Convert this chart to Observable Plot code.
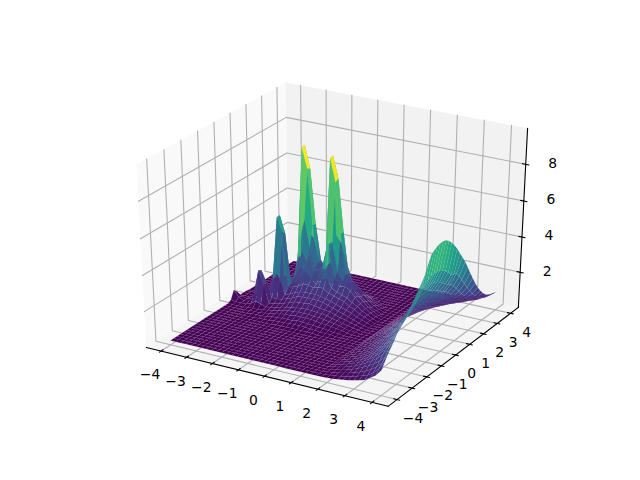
<!DOCTYPE html>
<html><head><meta charset="utf-8">
<script src="https://cdn.jsdelivr.net/npm/d3@7"></script>
<script src="https://cdn.jsdelivr.net/npm/@observablehq/plot@0.6"></script>
<style>html,body{margin:0;padding:0;background:#fff}svg{display:block}</style>
</head><body><div id="chart"></div>
<script>
const xLim=[-4.585,4.585], yLim=[-4.585,4.585], zLim=[-0.03,9.92];
const xTicks=[-4,-3,-2,-1,0,1,2,3,4], yTicks=[-4,-3,-2,-1,0,1,2,3,4], zTicks=[2,4,6,8];
const floorZ=0.95, zShift=0.73;
const gridStep=0.2, gridMin=-4, gridCount=41;
// z: rows for y = -1.2 … 2.8, columns x = -4 … 1.6
const ridgeRowStart=14;
const ridgeRows=[
[.95,.95,.95,.95,.95,.95,.95,.95,.95,.95,.95,.95,1,1,1,1,1,1,1,1,.95,.95,.95,.95,.95,.95,.95,.95,.95],
[.95,.95,.95,.95,.95,.95,.95,.95,1,1,1,1.05,1.05,1.05,1.1,1.1,1.1,1.1,1.05,1.05,1,1,1,.95,.95,.95,.95,.95,.95],
[.95,.95,.95,.95,.95,.95,1,1,1,1.05,1.1,1.1,1.15,1.15,1.15,1.2,1.2,1.15,1.15,1.1,1.1,1.05,1,1,.95,.95,.95,.95,.95],
[.95,.95,.95,.95,.95,1,1,1,1.05,1.1,1.15,1.2,1.25,1.25,1.3,1.3,1.3,1.3,1.25,1.2,1.2,1.15,1.1,1.05,1,.95,.95,.95,.95],
[.95,.95,.95,.95,1,1,1,1.05,1.1,1.15,1.2,1.3,1.35,1.35,1.4,1.4,1.4,1.35,1.35,1.3,1.25,1.2,1.15,1.05,1,1,.95,.95,.95],
[1.05,1,1,1,1.1,1.3,1.2,1.1,1.15,1.2,1.3,1.35,1.4,1.45,1.5,1.5,1.5,1.45,1.45,1.4,1.3,1.25,1.15,1.1,1.05,1,.95,.95,.95],
[1.5,1.15,1,1.05,1.5,2.95,2.2,1.2,1.25,1.3,1.4,1.5,1.6,1.65,1.65,1.7,1.65,1.6,1.55,1.5,1.4,1.3,1.25,1.15,1.1,1,.95,.95,.95],
[1.3,1.1,1,1.1,1.5,2.85,2.2,1.4,1.4,1.45,1.55,1.65,1.8,1.85,1.85,1.85,1.85,1.8,1.7,1.6,1.5,1.4,1.3,1.2,1.1,1,.95,.95,.95],
[1,1,1,1.1,1.2,1.5,1.7,2.8,2.5,1.6,1.7,1.85,1.95,2,2,2,1.95,1.9,1.8,1.7,1.6,1.5,1.4,1.25,1.15,1.05,.95,.95,.95],
[1,1,1,1.1,1.2,1.3,2.2,5.75,5,1.9,2,2.1,2.3,2.3,2.2,2.3,2.3,2.1,2,1.9,1.8,1.6,1.5,1.3,1.2,1.05,.95,.95,.95],
[1,1,1,1,1.1,1.2,2.2,5.75,4.8,2,2.2,2.6,3,2.5,2.3,2.6,2.8,2.3,2.1,2,1.9,1.7,1.55,1.35,1.2,1.05,.95,.95,.95],
[.95,.95,1,1,1,1.1,1.4,2.2,2.3,2.2,2.8,3,3.8,2.8,2.6,3.2,4,2.7,2.3,2.4,2.2,1.9,1.6,1.4,1.2,1.05,.95,.95,.95],
[.95,.95,.95,1,1,1.05,1.2,1.5,1.9,2.8,3.8,3.2,3,2.8,3,4.4,4.6,3,2.5,2.5,2.2,1.85,1.6,1.35,1.15,1,.95,.95,.95],
[.95,.95,.95,.95,1,1,1.1,1.4,2,4.2,5.4,3.9,2.8,2.6,2.8,9.03,7.8,5,2.8,2.4,2,1.7,1.5,1.2,1.1,.95,.95,.95,.95],
[.95,.95,.95,.95,.95,1,1.1,1.5,3,9.18,8.1,5,3,2.9,3,9.08,7.9,5,2.7,2.3,2,1.7,1.4,1.2,1.05,.95,.95,.95,.95],
[.95,.95,.95,.95,.95,.95,1.05,1.4,3,9.23,8,5,3,2.6,3,4.6,4.2,3.2,2.3,2,1.7,1.5,1.25,1.1,1,.95,.95,.95,.95],
[.95,.95,.95,.95,.95,.95,1,1.3,2,4.4,4,3,2.6,2.3,2.4,2.5,2.4,2.2,1.9,1.7,1.5,1.3,1.1,1,.95,.95,.95,.95,.95],
[.95,.95,.95,.95,.95,.95,1,1.15,1.5,2,2,2,1.9,1.9,1.9,1.8,1.8,1.7,1.5,1.4,1.25,1.1,1,.95,.95,.95,.95,.95,.95],
[.95,.95,.95,.95,.95,.95,.95,1.05,1.2,1.4,1.5,1.5,1.5,1.5,1.45,1.4,1.4,1.3,1.2,1.15,1.05,1,.95,.95,.95,.95,.95,.95,.95],
[.95,.95,.95,.95,.95,.95,.95,1,1.1,1.2,1.2,1.25,1.25,1.2,1.2,1.15,1.1,1.05,1,1,.95,.95,.95,.95,.95,.95,.95,.95,.95],
[.95,.95,.95,.95,.95,.95,.95,.95,1,1.05,1.05,1.05,1.05,1.05,1,1,.95,.95,.95,.95,.95,.95,.95,.95,.95,.95,.95,.95,.95]
];
// z: rows for y = -4 … 4, columns x = 1.8 … 4
const humpRows=[
[.95,.97,.99,1.04,1.08,1.13,1.2,1.27,1.36,1.55,1.75,2.1],
[.96,1,1.03,1.08,1.14,1.21,1.3,1.39,1.51,1.7,2,2.4],
[.98,1.02,1.07,1.13,1.21,1.3,1.41,1.54,1.69,1.9,2.2,2.7],
[1,1.06,1.11,1.19,1.29,1.41,1.54,1.7,1.89,2.11,2.42,2.95],
[1.02,1.08,1.15,1.25,1.36,1.5,1.66,1.84,2.07,2.33,2.69,3.2],
[1.03,1.11,1.19,1.29,1.42,1.58,1.76,1.97,2.23,2.51,2.93,3.5],
[1.04,1.13,1.21,1.33,1.47,1.64,1.84,2.07,2.35,2.67,3.12,3.75],
[1.05,1.14,1.24,1.36,1.51,1.69,1.91,2.15,2.46,2.79,3.28,3.95],
[1.06,1.16,1.26,1.39,1.55,1.75,1.97,2.23,2.56,2.92,3.44,4.15],
[1.07,1.18,1.28,1.42,1.59,1.8,2.04,2.31,2.66,3.04,3.59,4.35],
[1.09,1.2,1.31,1.46,1.64,1.86,2.12,2.42,2.79,3.19,3.79,4.6],
[1.1,1.22,1.33,1.49,1.69,1.93,2.2,2.52,2.91,3.35,3.98,4.85],
[1.11,1.24,1.36,1.53,1.74,1.99,2.29,2.62,3.04,3.5,4.18,5.1],
[1.12,1.26,1.39,1.57,1.79,2.06,2.37,2.72,3.07,3.56,4.17,5.35],
[1.14,1.28,1.42,1.61,1.85,2.14,2.47,2.85,3.22,3.75,4.4,5.65],
[1.16,1.32,1.47,1.68,1.94,2.25,2.62,3.03,3.45,4.02,4.76,6.1],
[1.18,1.35,1.52,1.74,2.02,2.36,2.75,3.2,3.66,4.17,4.87,6.5],
[1.19,1.36,1.53,1.76,2.05,2.4,2.8,3.26,3.73,4.27,4.99,6.65],
[1.19,1.37,1.54,1.78,2.07,2.42,2.83,3.3,3.78,4.33,5.06,6.75],
[1.2,1.37,1.55,1.79,2.08,2.43,2.85,3.32,3.81,4.36,5.1,6.8],
[1.2,1.37,1.55,1.79,2.08,2.43,2.85,3.32,3.81,4.36,5.1,6.8],
[1.19,1.37,1.54,1.78,2.07,2.42,2.83,3.3,3.78,4.33,5.06,6.75],
[1.19,1.36,1.53,1.76,2.04,2.38,2.78,3.24,3.71,4.23,4.95,6.6],
[1.18,1.34,1.51,1.73,2,2.33,2.72,3.16,3.61,4.11,4.79,6.4],
[1.16,1.32,1.48,1.69,1.95,2.27,2.63,3.05,3.48,3.96,4.6,6.15],
[1.15,1.3,1.44,1.64,1.89,2.19,2.53,2.93,3.32,3.77,4.36,5.85],
[1.13,1.27,1.41,1.59,1.82,2.1,2.42,2.79,3.15,3.65,4.29,5.5],
[1.11,1.24,1.37,1.54,1.75,2.01,2.3,2.64,3.07,3.54,4.22,5.15],
[1.1,1.21,1.33,1.49,1.68,1.91,2.19,2.5,2.89,3.32,3.94,4.8],
[1.08,1.18,1.29,1.43,1.6,1.81,2.06,2.34,2.69,3.07,3.63,4.4],
[1.05,1.14,1.24,1.36,1.51,1.69,1.91,2.15,2.46,2.79,3.28,3.95],
[1.03,1.11,1.19,1.3,1.43,1.59,1.77,1.99,2.25,2.54,2.97,3.55],
[1.01,1.08,1.15,1.24,1.35,1.49,1.64,1.82,2.05,2.3,2.66,3.15],
[1,1.05,1.11,1.19,1.28,1.39,1.53,1.68,1.87,2.08,2.38,2.8],
[.98,1.03,1.08,1.14,1.22,1.32,1.43,1.56,1.72,1.89,2.15,2.5],
[.97,1.01,1.05,1.1,1.17,1.25,1.35,1.45,1.59,1.74,1.95,2.25],
[.96,.99,1.03,1.07,1.13,1.2,1.28,1.37,1.49,1.61,1.8,2.05],
[.95,.98,1.01,1.05,1.1,1.16,1.23,1.31,1.41,1.52,1.68,1.9],
[.95,.97,.99,1.04,1.08,1.13,1.2,1.27,1.36,1.46,1.6,1.8],
[.95,.97,.99,1.03,1.07,1.12,1.18,1.25,1.34,1.43,1.56,1.75],
[.95,.97,.99,1.03,1.07,1.12,1.18,1.25,1.34,1.43,1.56,1.75]
];

const rad=Math.PI/180, el=30*rad, az=-60*rad, dist=10;
const w=[Math.cos(el)*Math.cos(az),Math.cos(el)*Math.sin(az),Math.sin(el)];
const u=[-Math.sin(az),Math.cos(az),0];
const v=[-Math.sin(el)*Math.cos(az),-Math.sin(el)*Math.sin(az),Math.cos(el)];
const dot=(a,b)=>a[0]*b[0]+a[1]*b[1]+a[2]*b[2];
function proj(x,y,z){
  const d=[(x-xLim[0])/(xLim[1]-xLim[0])-.5,(y-yLim[0])/(yLim[1]-yLim[0])-.5,(z-zLim[0])/(zLim[1]-zLim[0])-.5];
  const den=dist-dot(w,d);
  return {px:334.7+2791*dot(u,d)/den, py:238.4-2088*dot(v,d)/den, depth:den};
}
const [x0,x1]=xLim,[y0,y1]=yLim,[z0,z1]=zLim;
const path=(id,pts)=>pts.map(p=>({id,...proj(...p)}));
const panes=[
 {c:"#f9f9f9",p:[[x0,y0,z0],[x0,y1,z0],[x0,y1,z1],[x0,y0,z1]]},
 {c:"#f2f2f2",p:[[x0,y1,z0],[x1,y1,z0],[x1,y1,z1],[x0,y1,z1]]},
 {c:"#f5f5f5",p:[[x0,y0,z0],[x1,y0,z0],[x1,y1,z0],[x0,y1,z0]]}
];
const grid=[
 ...xTicks.map(t=>path("gx"+t,[[t,y0,z0],[t,y1,z0],[t,y1,z1]])),
 ...yTicks.map(t=>path("gy"+t,[[x1,t,z0],[x0,t,z0],[x0,t,z1]])),
 ...zTicks.map(t=>path("gz"+t,[[x0,y0,t],[x0,y1,t],[x1,y1,t]]))
].flat();
const axes=[
 ...path("ax",[[x0,y0,z0],[x1,y0,z0]]),
 ...path("ay",[[x1,y0,z0],[x1,y1,z0]]),
 ...path("az",[[x1,y1,z0],[x1,y1,z1]]),
 ...xTicks.flatMap(t=>path("tx"+t,[[t,y0-.1,z0],[t,y0+.12,z0]])),
 ...yTicks.flatMap(t=>path("ty"+t,[[x1-.12,t,z0],[x1+.1,t,z0]])),
 ...zTicks.flatMap(t=>path("tz"+t,[[x1-.12,y1,t],[x1+.12,y1,t]]))
];
const fmt=t=>String(t).replace("-","\u2212");
const labelsX=xTicks.map(t=>({...proj(t,y0,z0),t:fmt(t)}));
const labelsY=yTicks.map(t=>({...proj(x1,t,z0),t:fmt(t)}));
const labelsZ=zTicks.map(t=>({...proj(x1,y1,t),t:fmt(t)}));

function zAt(i,j){
  if(i>=29) return humpRows[j][i-29]-zShift;
  const r=ridgeRows[j-ridgeRowStart];
  if(r&&r[i]!==undefined) return r[i]-zShift;
  return floorZ-zShift;
}
const gx=i=>gridMin+i*gridStep;
const cells=[];
for(let j=0;j<gridCount-1;j++)for(let i=0;i<gridCount-1;i++){
  const c=[[i,j],[i+1,j],[i+1,j+1],[i,j+1]].map(([a,b])=>[gx(a),gx(b),zAt(a,b)]);
  const mz=d3.mean(c,d=>d[2]);
  const pts=c.map(d=>proj(...d));
  cells.push({mz,pts,depth:d3.mean(pts,d=>d.depth)});
}
cells.sort((a,b)=>b.depth-a.depth);
const surface=cells.flatMap((c,k)=>c.pts.map(p=>({id:k,px:p.px,py:p.py,v:c.mz})));
const colorDomain=d3.extent(cells,c=>c.mz);

const font={fontFamily:"DejaVu Sans",fontSize:13.9,fill:"#000",textAnchor:"middle"};
const chart=Plot.plot({
  width:640,height:480,margin:0,
  x:{domain:[0,640],range:[0,640],axis:null},
  y:{domain:[0,480],range:[0,480],axis:null},
  color:{type:"linear",scheme:"viridis",domain:colorDomain},
  style:{background:"#fff"},
  marks:[
    ...panes.map(p=>Plot.line(path("p",p.p),{x:"px",y:"py",fill:p.c,stroke:"none",curve:"linear-closed"})),
    Plot.line(grid,{x:"px",y:"py",z:"id",stroke:"#b0b0b0",strokeWidth:1.1}),
    Plot.line(axes,{x:"px",y:"py",z:"id",stroke:"#000",strokeWidth:1.1}),
    Plot.line(surface,{x:"px",y:"py",z:"id",fill:"v",stroke:"#fff",strokeOpacity:.08,strokeWidth:.4,curve:"linear-closed"}),
    Plot.text(labelsX,{x:"px",y:"py",text:"t",dx:-11,dy:24,...font}),
    Plot.text(labelsY,{x:"px",y:"py",text:"t",dx:16,dy:19,...font}),
    Plot.text(labelsZ,{x:"px",y:"py",text:"t",dx:27,dy:-1,...font})
  ]
});
document.getElementById("chart").append(chart);
</script></body></html>
